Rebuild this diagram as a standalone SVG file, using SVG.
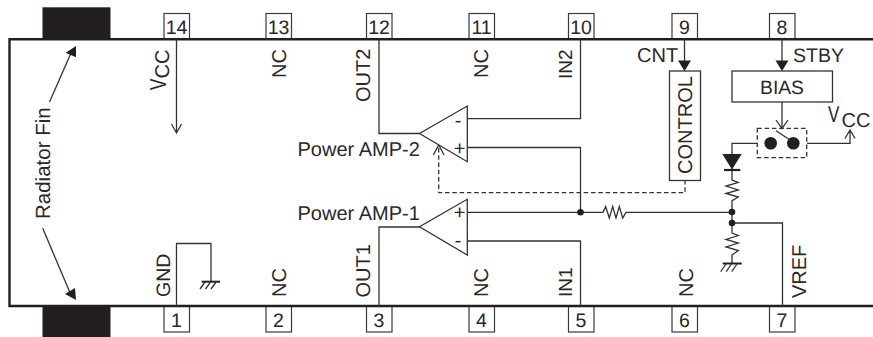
<svg xmlns="http://www.w3.org/2000/svg" width="873" height="337" viewBox="0 0 873 337">
<style>
text{font-family:"Liberation Sans",Arial,sans-serif;font-size:20px;fill:#2a2728;text-rendering:geometricPrecision}
.c{text-anchor:middle}
.n{font-size:19.500px}
.pin rect{fill:#fff;stroke:#3a3a3a;stroke-width:1.200}
.w{fill:none;stroke:#333;stroke-width:1.300}
.d{fill:none;stroke:#333;stroke-width:1.300;stroke-dasharray:4.500 2.800}
.f{fill:#231f20;stroke:none}
.o{fill:#fff;stroke:#333;stroke-width:1.300}
</style>
<rect width="873" height="337" fill="#fff"/>
<g id="fin-top"><rect class="f" x="42.500" y="7.300" width="68" height="32"/></g>
<g id="fin-bottom"><rect class="f" x="42.500" y="306" width="68" height="31"/></g>
<g id="pin14" class="pin"><rect x="164" y="13.500" width="25.500" height="25.500"/><text class="c n" x="176.500" y="33.500">14</text></g>
<g id="pin13" class="pin"><rect x="266" y="13.500" width="25.500" height="25.500"/><text class="c n" x="278.500" y="33.500">13</text></g>
<g id="pin12" class="pin"><rect x="366.500" y="13.500" width="25.500" height="25.500"/><text class="c n" x="379" y="33.500">12</text></g>
<g id="pin11" class="pin"><rect x="469" y="13.500" width="25.500" height="25.500"/><text class="c n" x="481.500" y="33.500">11</text></g>
<g id="pin10" class="pin"><rect x="568.500" y="13.500" width="25.500" height="25.500"/><text class="c n" x="581" y="33.500">10</text></g>
<g id="pin9" class="pin"><rect x="672" y="13.500" width="25.500" height="25.500"/><text class="c n" x="684.500" y="33.500">9</text></g>
<g id="pin8" class="pin"><rect x="769.500" y="13.500" width="25.500" height="25.500"/><text class="c n" x="782" y="33.500">8</text></g>
<g id="pin1" class="pin"><rect x="164" y="306" width="25.500" height="26"/><text class="c n" x="176.500" y="326.500">1</text></g>
<g id="pin2" class="pin"><rect x="266" y="306" width="25.500" height="26"/><text class="c n" x="278.500" y="326.500">2</text></g>
<g id="pin3" class="pin"><rect x="366.500" y="306" width="25.500" height="26"/><text class="c n" x="379" y="326.500">3</text></g>
<g id="pin4" class="pin"><rect x="469" y="306" width="25.500" height="26"/><text class="c n" x="481.500" y="326.500">4</text></g>
<g id="pin5" class="pin"><rect x="568.500" y="306" width="25.500" height="26"/><text class="c n" x="581" y="326.500">5</text></g>
<g id="pin6" class="pin"><rect x="672" y="306" width="25.500" height="26"/><text class="c n" x="684.500" y="326.500">6</text></g>
<g id="pin7" class="pin"><rect x="769.500" y="306" width="25.500" height="26"/><text class="c n" x="782" y="326.500">7</text></g>
<g id="package"><path d="M873 39.300H9.500V306H873" fill="none" stroke="#231f20" stroke-width="2.400"/></g>
<g id="connectors">
<path class="w" d="M176.500 39V133M171.500 124L176.500 133L181.500 124"/>
<path class="w" d="M176.500 306V243.500H211V281"/>
<path class="w" d="M379 39V133.500H420"/>
<path class="w" d="M379 306V227H420"/>
<path class="w" d="M467 118.700H580.500V39"/>
<path class="w" d="M467 147.500H580.500V212"/>
<path class="w" d="M467 212.300H603L605.700 206.500L609.300 218L612.700 206.500L616 218L619.300 206.500L622.700 218L626 212.300H732"/>
<path class="w" d="M467 241H580.500V306"/>
<path class="w" d="M684.500 39V64"/>
<path class="w" d="M782 39V64"/>
<path class="w" d="M782 102V128M776 120L782 128.500L788 120"/>
<path class="d" d="M685 180V192.700H438.700V146"/>
<path class="w" d="M433.300 155L438.700 145L444 155"/>
<path class="w" d="M757 143.300H732V170"/>
<path class="w" d="M807 143.300H850V131M845 138.500L850 130L855 138.500"/>
<path class="w" d="M732 170V180L738.300 182.500L726 186L738.300 190L726 193.500L738.300 197L732 200.700V233L738.300 235.500L726 239.500L738.300 243L726 247L738.300 250.500L732 255V264"/>
<path class="w" d="M732 223H782.500V306"/>
<path class="w" d="M49.500 102L71 53"/>
<path class="w" d="M42.700 228.300L71 295"/>
<path class="w" d="M776 130.700L790 140"/>
</g>
<g id="amp2"><path class="o" d="M467.300 106V161.700L419.500 133.500Z"/><text class="c" x="458" y="126.500">-</text><text class="c" x="459.500" y="155">+</text></g>
<g id="amp1"><path class="o" d="M467.300 199.300V255L419.500 226.800Z"/><text class="c" x="458" y="246.500">-</text><text class="c" x="459.500" y="219">+</text></g>
<g id="control"><rect class="o" x="669.500" y="71" width="31" height="109.500"/><text class="c" transform="translate(692,125) rotate(-90)">CONTROL</text></g>
<g id="bias"><rect class="o" x="732" y="71" width="100.500" height="31"/><text class="c" x="782" y="94" style="font-size:19.300px">BIAS</text></g>
<g id="switch"><rect class="d" x="757.300" y="128.300" width="49.400" height="29.300"/><circle class="f" cx="770.700" cy="143.300" r="6.300"/><circle class="f" cx="793.300" cy="143.300" r="6.300"/></g>
<g id="diode"><path class="f" d="M722.300 154H741.700L732 169.500Z"/><path d="M724 170H740.300" stroke="#231f20" stroke-width="2.200"/></g>
<g id="gnd1"><path d="M201.700 281.700H220" stroke="#231f20" stroke-width="2"/><path class="w" d="M205 282L200 289M210.500 282L205.500 289M216 282L211 289"/></g>
<g id="gnd2"><path d="M722.700 263.500H741.700" stroke="#231f20" stroke-width="2"/><path class="w" d="M726 264L720.700 271.700M731.500 264L726.200 271.700M737 264L731.700 271.700"/></g>
<g id="dots"><circle class="f" cx="580.500" cy="212.300" r="3.300"/><circle class="f" cx="732" cy="212" r="3.300"/><circle class="f" cx="732" cy="223" r="3.300"/></g>
<g id="arrowheads"><path class="f" d="M678 60.500H691L684.500 71Z"/><path class="f" d="M775.500 60.500H788.500L782 71Z"/><path class="f" d="M65.700 52.700L76 46L76 57.300Z"/><path class="f" d="M65 294L76 300L75 288Z"/></g>
<text transform="translate(50,219) rotate(-90)" style="font-size:20.500px">Radiator Fin</text>
<text transform="translate(166,90) rotate(-90) scale(0.85,1.15)">V</text>
<text transform="translate(169.300,78.500) rotate(-90)">CC</text>
<text transform="translate(286,78) rotate(-90)">NC</text>
<text transform="translate(370,102) rotate(-90)">OUT2</text>
<text transform="translate(488,78) rotate(-90)">NC</text>
<text transform="translate(572.300,79) rotate(-90)" style="font-size:19px">IN2</text>
<text transform="translate(170,297) rotate(-90)" style="font-size:19.500px">GND</text>
<text transform="translate(286,297) rotate(-90)">NC</text>
<text transform="translate(370,297.500) rotate(-90)">OUT1</text>
<text transform="translate(488,297) rotate(-90)">NC</text>
<text transform="translate(572.300,297) rotate(-90)" style="font-size:19px">IN1</text>
<text transform="translate(692.700,297) rotate(-90)">NC</text>
<text transform="translate(806,298) rotate(-90)">VREF</text>
<text x="297.500" y="156">Power AMP-2</text>
<text x="297.500" y="219.500">Power AMP-1</text>
<text x="637" y="62">CNT</text>
<text x="793" y="62" style="font-size:19.500px">STBY</text>
<text transform="translate(828,122) scale(0.85,1.15)">V</text>
<text x="841.500" y="126.500">CC</text>
</svg>
